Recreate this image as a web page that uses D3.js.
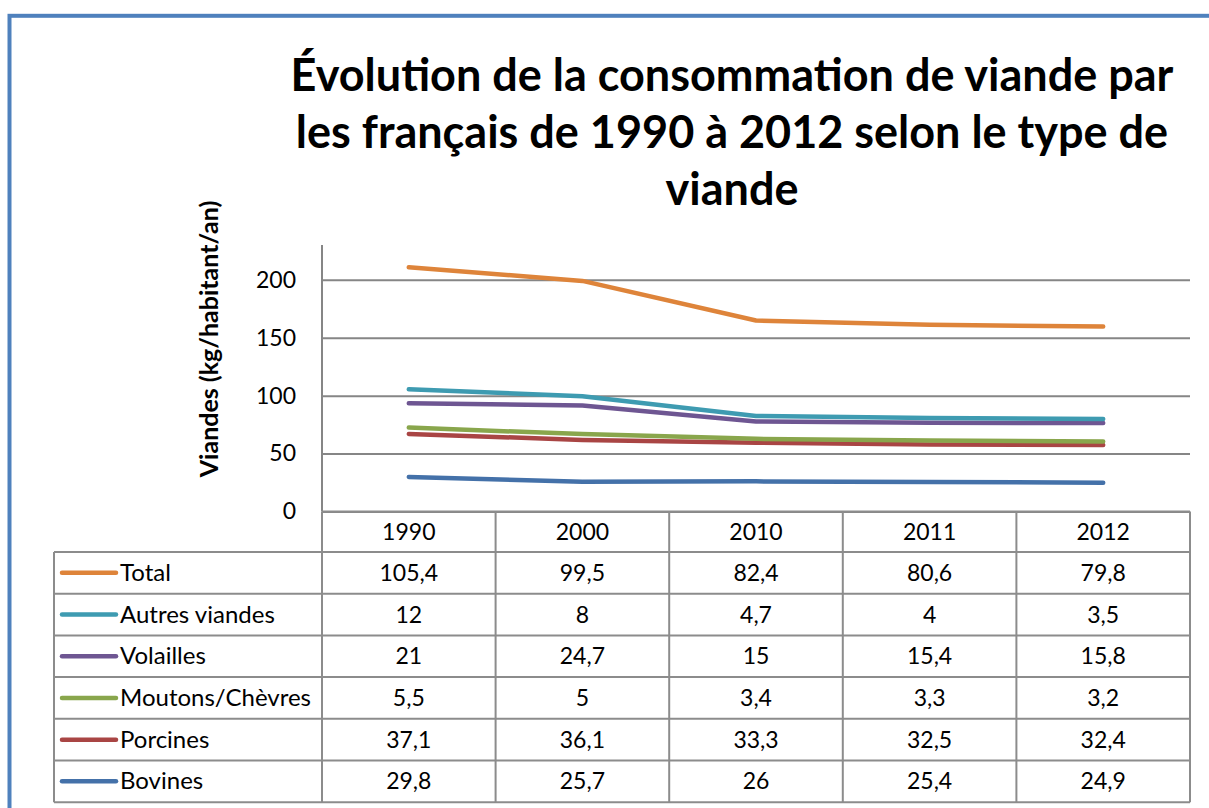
<!DOCTYPE html>
<html>
<head>
<meta charset="utf-8">
<script src="https://cdn.jsdelivr.net/npm/d3@7"></script>
<style>
  body { margin: 0; background: #fff; }
  text { font-family: "Lato", "Open Sans", sans-serif; fill: #000; }
</style>
</head>
<body>
<script>
// Data (kg/habitant/an)
var years = ["1990", "2000", "2010", "2011", "2012"];
var bovines = [29.8, 25.7, 26, 25.4, 24.9];
var porcines = [37.1, 36.1, 33.3, 32.5, 32.4];
var moutons = [5.5, 5, 3.4, 3.3, 3.2];
var volailles = [21, 24.7, 15, 15.4, 15.8];
var autres = [12, 8, 4.7, 4, 3.5];
var total = [105.4, 99.5, 82.4, 80.6, 79.8];
var seriesNames = ["Bovines", "Porcines", "Moutons/Chèvres", "Volailles", "Autres viandes", "Total"];
var seriesColors = ["#4471a9", "#a94544", "#89a64c", "#6e5692", "#3e9bb1", "#de843a"];
var yTicks = [0, 50, 100, 150, 200];

var svgWidth = 1209;
var svgHeight = 808;

var plot = { left: 322, right: 1190, top: 245, bottom: 511.5 };
var table = { left: 54, rowH: 41.7, headerH: 40.5 };

var svg = d3.select("body")
  .append("svg")
  .attr("width", svgWidth)
  .attr("height", svgHeight);

// outer frame
svg.append("rect")
  .attr("x", 9.5)
  .attr("y", 15.8)
  .attr("width", 1400)
  .attr("height", 1000)
  .attr("fill", "none")
  .attr("stroke", "#4f81bd")
  .attr("stroke-width", 4);

// build rows: one object per year
var allSeries = [bovines, porcines, moutons, volailles, autres, total];
var rows = years.map(function(y, i) {
  var r = { year: y };
  seriesNames.forEach(function(name, j) { r[name] = allSeries[j][i]; });
  return r;
});

var stack = d3.stack().keys(seriesNames);
var stacked = stack(rows);

var xScale = d3.scaleBand()
  .domain(years)
  .range([plot.left, plot.right]);

var yScale = d3.scaleLinear()
  .domain([0, 230])
  .range([plot.bottom, plot.top]);

// gridlines + y labels
var leftAxis = d3.axisLeft(yScale)
  .tickValues(yTicks)
  .tickSize(-(plot.right - plot.left))
  .tickPadding(26)
  .tickFormat(d3.format("d"));

var yAxisG = svg.append("g")
  .attr("transform", `translate(${plot.left}, 0)`)
  .call(leftAxis);
yAxisG.select(".domain").remove();
yAxisG.selectAll(".tick line")
  .attr("stroke", "#868686")
  .attr("stroke-width", 2);
yAxisG.selectAll(".tick text")
  .attr("font-size", "23px")
  .attr("font-family", "Lato, sans-serif");

// vertical axis line
svg.append("line")
  .attr("x1", plot.left).attr("x2", plot.left)
  .attr("y1", plot.top).attr("y2", plot.bottom)
  .attr("stroke", "#868686")
  .attr("stroke-width", 2);

// y axis title
svg.append("text")
  .attr("transform", "translate(218, 339) rotate(-90)")
  .attr("text-anchor", "middle")
  .attr("font-size", "25px")
  .attr("font-weight", "bold")
  .text("Viandes (kg/habitant/an)");

// title
var titleLines = [
  "Évolution de la consommation de viande par",
  "les français de 1990 à 2012 selon le type de",
  "viande"
];
svg.append("g").selectAll("text")
  .data(titleLines)
  .enter()
  .append("text")
  .attr("x", 732)
  .attr("y", (d, i) => 91 + i * 57)
  .attr("text-anchor", "middle")
  .attr("font-size", "45px")
  .attr("font-weight", "bold")
  .text(d => d);

// lines
var line = d3.line()
  .x((d, i) => xScale(years[i]) + xScale.bandwidth() / 2)
  .y(d => yScale(d[1]));

svg.append("g").selectAll("path")
  .data(stacked)
  .enter()
  .append("path")
  .attr("d", d => line(d))
  .attr("fill", "none")
  .attr("stroke", (d, i) => seriesColors[i])
  .attr("stroke-width", 4.5)
  .attr("stroke-linecap", "round")
  .attr("stroke-linejoin", "round");

// data table
var gridColor = "#8c8c8c";
var tableTop = plot.bottom;
var bodyTop = tableTop + table.headerH;
var tableRows = seriesNames.slice().reverse(); // Total first
var tableBottom = bodyTop + tableRows.length * table.rowH;
var tg = svg.append("g");

// horizontal lines
tg.append("line")
  .attr("x1", plot.left).attr("x2", plot.right)
  .attr("y1", tableTop).attr("y2", tableTop)
  .attr("stroke", gridColor).attr("stroke-width", 2);
d3.range(tableRows.length + 1).forEach(function(i) {
  var yy = bodyTop + i * table.rowH;
  tg.append("line")
    .attr("x1", table.left).attr("x2", plot.right)
    .attr("y1", yy).attr("y2", yy)
    .attr("stroke", gridColor).attr("stroke-width", 2);
});

// vertical lines
tg.append("line")
  .attr("x1", table.left).attr("x2", table.left)
  .attr("y1", bodyTop).attr("y2", tableBottom)
  .attr("stroke", gridColor).attr("stroke-width", 2);
years.forEach(function(y) {
  tg.append("line")
    .attr("x1", xScale(y)).attr("x2", xScale(y))
    .attr("y1", tableTop).attr("y2", tableBottom)
    .attr("stroke", gridColor).attr("stroke-width", 2);
});
tg.append("line")
  .attr("x1", plot.right).attr("x2", plot.right)
  .attr("y1", tableTop).attr("y2", tableBottom)
  .attr("stroke", gridColor).attr("stroke-width", 2);

// header
tg.selectAll(".yearLabel")
  .data(years)
  .enter()
  .append("text")
  .attr("class", "yearLabel")
  .attr("x", d => xScale(d) + xScale.bandwidth() / 2)
  .attr("y", tableTop + table.headerH / 2 + 8)
  .attr("text-anchor", "middle")
  .attr("font-size", "23px")
  .text(d => d);

function fmt(v) { return String(v).replace(".", ","); }

tableRows.forEach(function(name, r) {
  var k = seriesNames.indexOf(name);
  var cy = bodyTop + r * table.rowH + table.rowH / 2;
  tg.append("line")
    .attr("x1", 62).attr("x2", 116)
    .attr("y1", cy).attr("y2", cy)
    .attr("stroke", seriesColors[k])
    .attr("stroke-width", 4.5)
    .attr("stroke-linecap", "round");
  tg.append("text")
    .attr("x", 120)
    .attr("y", cy + 8)
    .attr("font-size", "24px")
    .text(name);
  years.forEach(function(y, i) {
    tg.append("text")
      .attr("x", xScale(y) + xScale.bandwidth() / 2)
      .attr("y", cy + 8)
      .attr("text-anchor", "middle")
      .attr("font-size", "23px")
      .text(fmt(allSeries[k][i]));
  });
});
</script>
</body>
</html>
